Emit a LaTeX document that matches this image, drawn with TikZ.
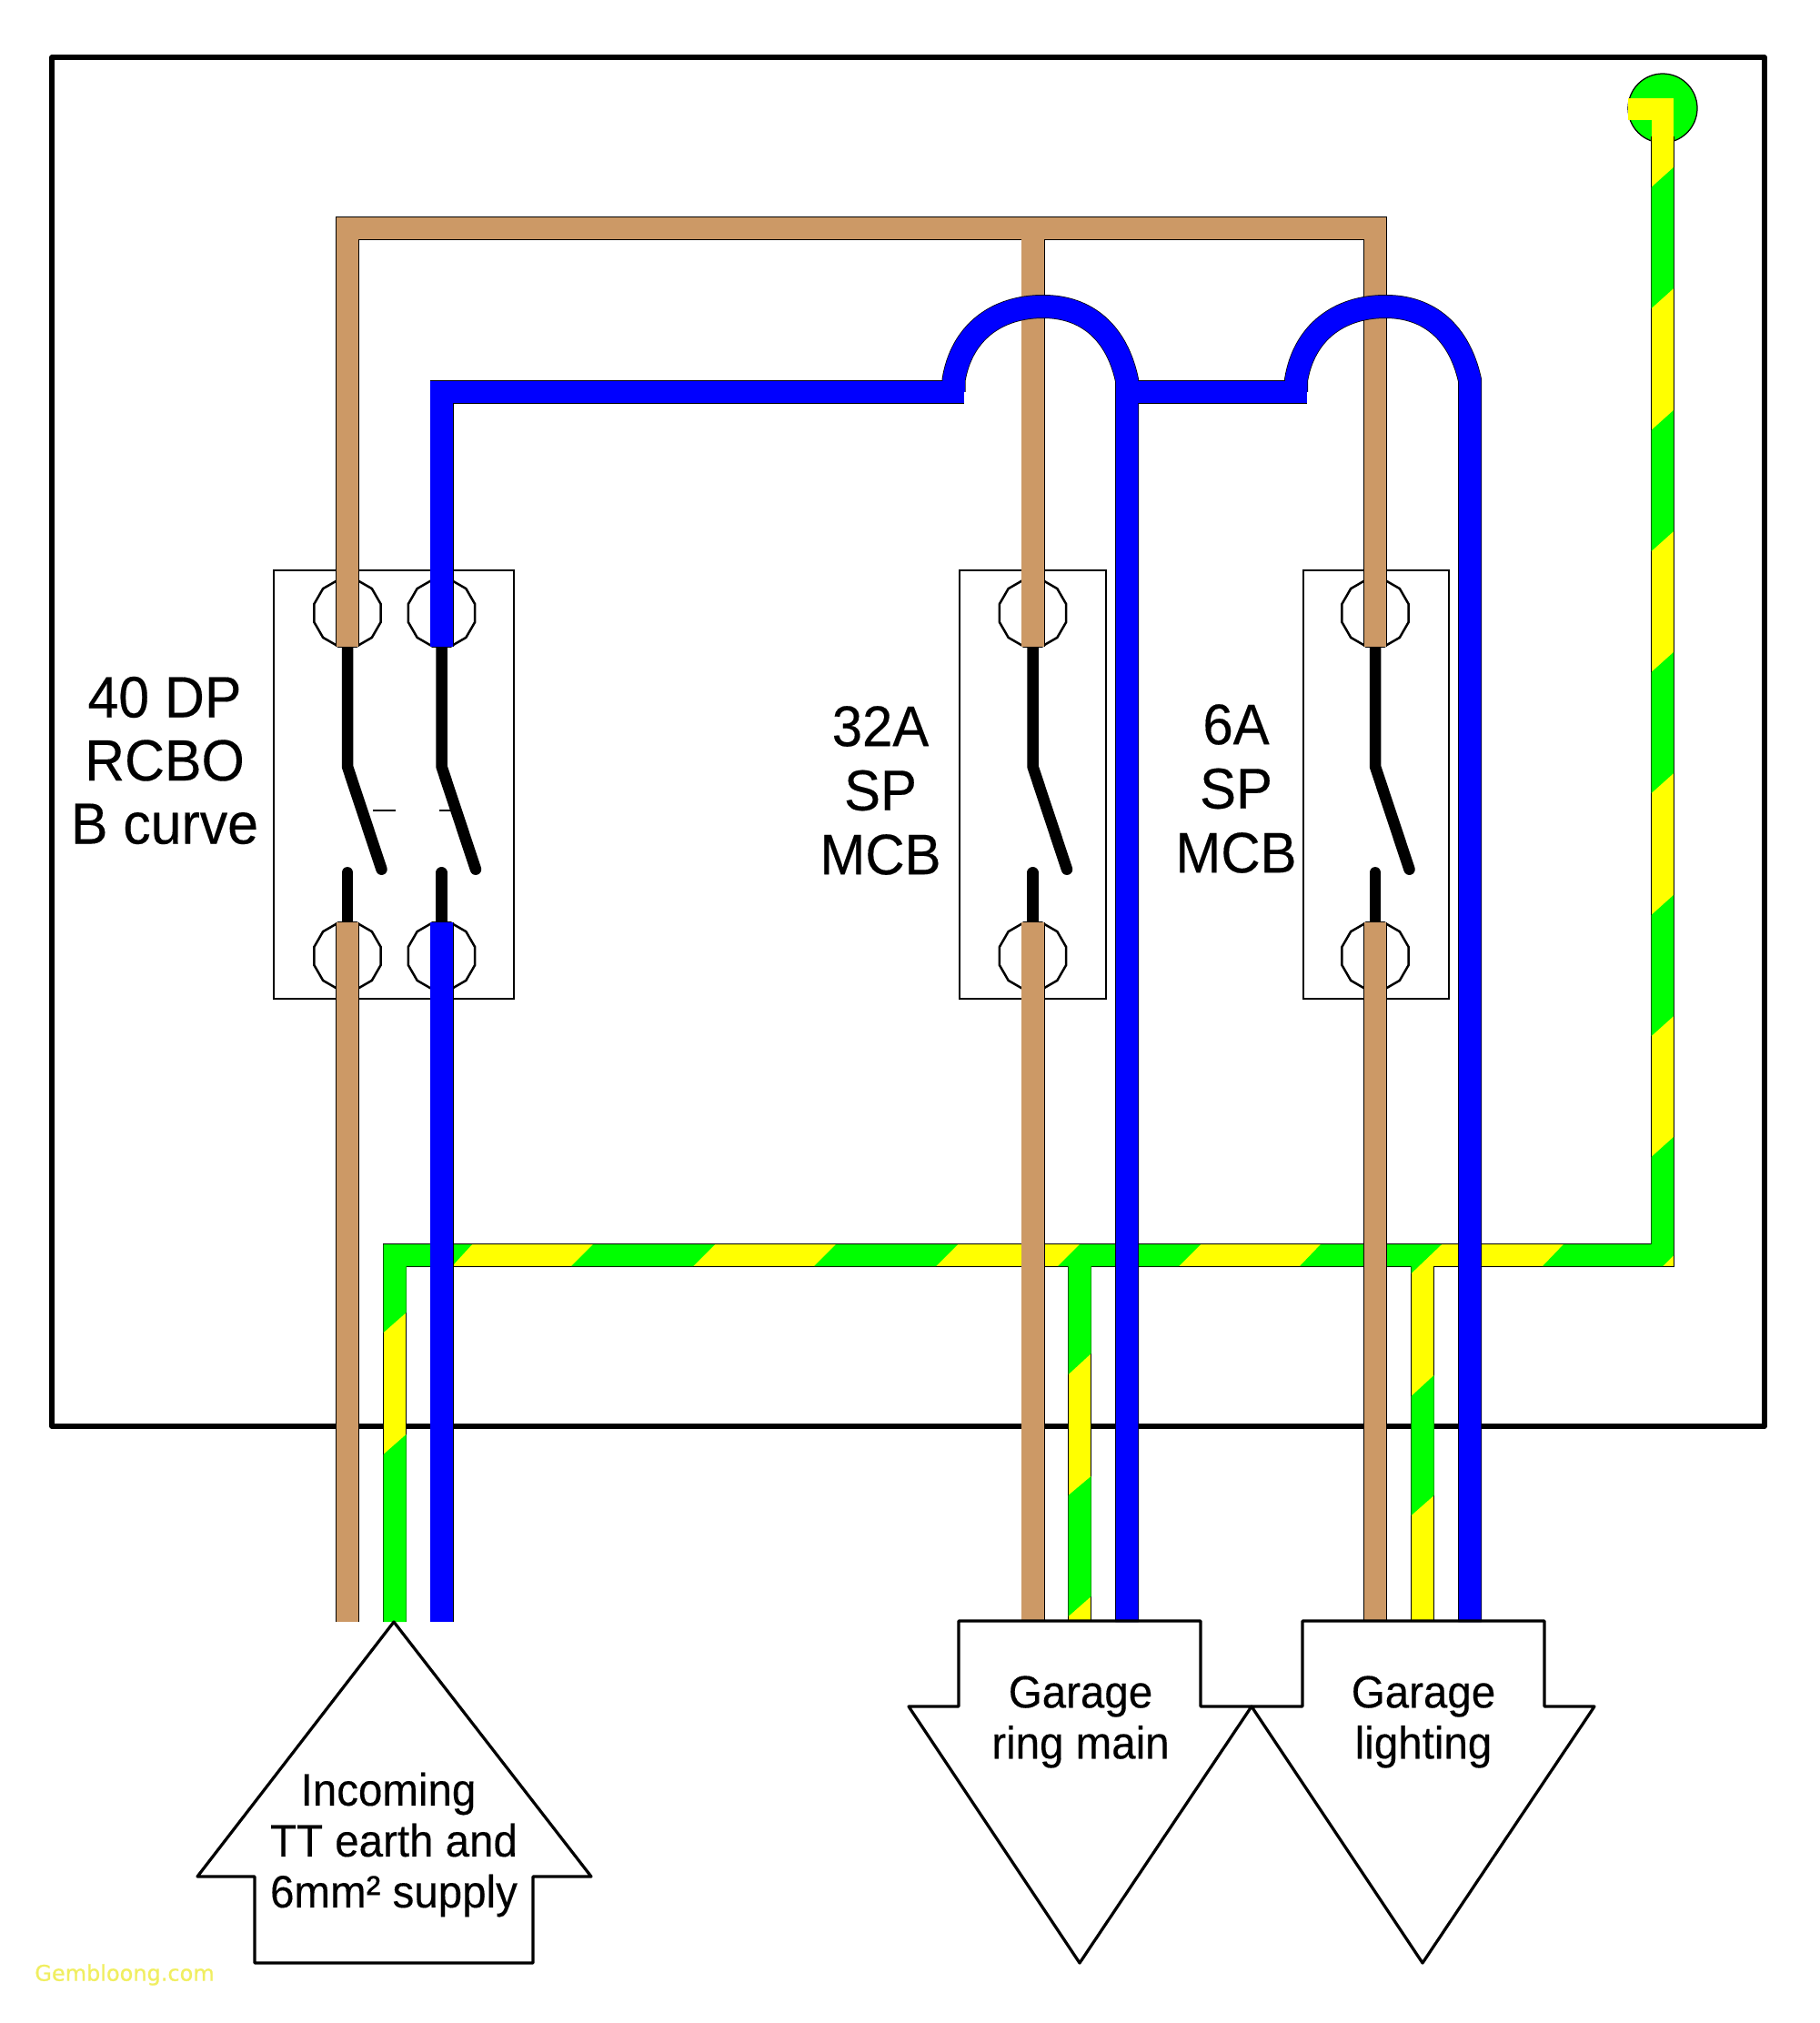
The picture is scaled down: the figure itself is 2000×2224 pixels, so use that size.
\documentclass[tikz,border=0pt]{standalone}
\usepackage{fontspec}
\setmainfont{Liberation Sans}[FakeStretch=0.95,FakeBold=0.25]
\newfontfamily\markfont{DejaVu Sans}[FakeBold=0.8]
\usetikzlibrary{shapes.geometric}
\definecolor{livebrown}{HTML}{CC9966}
\definecolor{neutralblue}{HTML}{0000FF}
\definecolor{earthgreen}{HTML}{00FF00}
\definecolor{earthyellow}{HTML}{FFFF00}
\definecolor{markyellow}{HTML}{F0EE60}
\tikzset{
    board/.style={draw, line width=2.2pt, line join=round},
    breaker/.style={
        rectangle, draw, line width=1.1pt, minimum height=188.4pt, inner sep=0pt
    },
    terminal/.style={
        regular polygon, regular polygon sides=12, draw, line width=1pt,
        minimum size=30.4pt, inner sep=0pt, outer sep=0pt
    },
    gndstud/.style={
        circle, draw, line width=0.5pt, fill=earthgreen,
        minimum size=30.4pt, inner sep=0pt
    },
    contact/.style={line width=5pt, line cap=round, line join=round},
    flag/.style={draw, line width=0.6pt},
    wirecase/.style={line width=10.4pt, draw=black},
    brownwire/.style={line width=9.8pt, draw=livebrown},
    bluewire/.style={line width=9.8pt, draw=neutralblue},
    earthwire/.style={line width=9.8pt, draw=earthyellow},
    stripe/.style={fill=earthgreen},
    tag/.style={draw, line width=1.3pt, line join=round},
    rating/.style={align=center, inner sep=0pt}
}
\begin{document}
\begin{tikzpicture}[x=0.4pt, y=-0.4pt]
	\useasboundingbox (0,0) rectangle (2000,2224);

	% ENCLOSURE
	\draw[board] (57,63) rectangle (1940,1568);

	% BREAKERS
	\node (rcbo) [breaker, minimum width=105.6pt] at (433,862.5) {};
	\node (mcbring) [breaker, minimum width=64.4pt] at (1135.5,862.5) {};
	\node (mcblight) [breaker, minimum width=64pt] at (1513,862.5) {};

	% TERMINALS
	\foreach \tname/\tx in {rcboL/382, rcboN/485.5, ring/1135.5, light/1512} {
		\node (\tname top) [terminal] at (\tx,674) {};
		\node (\tname bot) [terminal] at (\tx,1051) {};
		\draw[contact] (\tname top.south) -- ++(0,132) -- ++(37.5,113);
		\draw[contact] (\tname bot.north) -- ++(0,-55);
	}
	\node (gnd) [gndstud] at (1828,119) {};

	% TRIP MARKS
	\draw[flag] (410,891) -- (435,891);
	\draw[flag] (483,891) -- (498,891);

	% EARTH
	\draw[wirecase] (434,1783) -- (434,1380) -- (1828,1380) -- (1828,150);
	\draw[wirecase] (1187,1380) -- (1187,1783);
	\draw[wirecase] (1564,1380) -- (1564,1783);
	\draw[earthwire] (434,1783) -- (434,1380) -- (1828,1380) -- (1828,120) -- (1790,120);
	\draw[earthwire] (1187,1380) -- (1187,1783);
	\draw[earthwire] (1564,1380) -- (1564,1783);
	\foreach \a in {652,919} {
		\fill[stripe] (\a,1368) -- (\a+134,1368) -- (\a+110,1392) -- (\a-24,1392) -- cycle;
	}
	\foreach \b in {184,451,717,984} {
		\fill[stripe] (1840,\b) -- (1840,\b+133) -- (1815.5,\b+155) -- (1815.5,\b+22) -- cycle;
	}
	\fill[stripe] (421.5,1368) -- (519,1368) -- (497,1392) -- (446.5,1392)
		-- (446.5,1443) -- (421.5,1465) -- cycle;
	\fill[stripe] (446.5,1577) -- (446.5,1783) -- (421.5,1783) -- (421.5,1599) -- cycle;
	\fill[stripe] (1187,1368) -- (1320,1368) -- (1296,1392) -- (1199.5,1392)
		-- (1199.5,1488) -- (1174.5,1511) -- (1174.5,1392) -- (1163,1392) -- cycle;
	\fill[stripe] (1199.5,1623) -- (1199.5,1755) -- (1174.5,1777) -- (1174.5,1644) -- cycle;
	\fill[stripe] (1452,1368) -- (1585,1368) -- (1551.5,1400) -- (1551.5,1392) -- (1429,1392) -- cycle;
	\fill[stripe] (1576.5,1512) -- (1576.5,1644) -- (1551.5,1666) -- (1551.5,1535) -- cycle;
	\fill[stripe] (1840,1250) -- (1840,1380) -- (1828,1392) -- (1696,1392) -- (1719,1368)
		-- (1815.5,1368) -- (1815.5,1272) -- cycle;

	% LIVE
	\foreach \tname/\tx in {rcboL/382, ring/1135.5, light/1512} {
		\draw[wirecase] (\tname bot.north) -- (\tx,1783);
		\draw[brownwire] (\tname bot.north) -- (\tx,1783);
	}
	\draw[wirecase] (rcboLtop.south) -- (382,251) -- (1512,251) -- (lighttop.south);
	\draw[wirecase] (1135.5,251) -- (ringtop.south);
	\draw[brownwire] (rcboLtop.south) -- (382,251) -- (1512,251) -- (lighttop.south);
	\draw[brownwire] (1135.5,251) -- (ringtop.south);

	% NEUTRAL
	\draw[wirecase] (rcboNbot.north) -- (485.5,1783);
	\draw[bluewire] (rcboNbot.north) -- (485.5,1783);
	\foreach \col in {wirecase, bluewire} {
		\draw[\col] (rcboNtop.south) -- (485.5,431) -- (1060,431);
		\draw[\col] (1048.5,431) -- (1048.5,418) .. controls (1057,366) and (1095,337) .. (1147,337)
			.. controls (1195,337) and (1228,366) .. (1239,418) -- (1239,1783);
		\draw[\col] (1239,431) -- (1437,431);
		\draw[\col] (1425,431) -- (1425,418) .. controls (1433.5,366) and (1471.5,337) .. (1523.5,337)
			.. controls (1571.5,337) and (1604.5,366) .. (1616,418) -- (1616,1783);
	}

	% LABELS
	\node (rcbotext) [rating, font=\fontsize{25.6}{27.8}\selectfont] at (181,836) {40 DP\\RCBO\\B curve};
	\node (ringtext) [rating, font=\fontsize{25.2}{28.2}\selectfont] at (968,869) {32A\\SP\\MCB};
	\node (lighttext) [rating, font=\fontsize{25.2}{28.2}\selectfont] at (1359,867) {6A\\SP\\MCB};

	% ARROWS
	\draw[tag] (433,1783) -- (650,2063) -- (586,2063) -- (586,2158) -- (280,2158) -- (280,2063) -- (217,2063) -- cycle;
	\draw[tag] (1054,1782) -- (1320,1782) -- (1320,1876) -- (1376,1876) -- (1187,2158) -- (999,1876) -- (1054,1876) -- cycle;
	\draw[tag] (1432,1782) -- (1698,1782) -- (1698,1876) -- (1753,1876) -- (1564,2158) -- (1376,1876) -- (1432,1876) -- cycle;
	\node (incoming) [rating, font=\fontsize{20}{22.4}\selectfont] at (433,2028) {Incoming\hspace*{4.8pt}\\TT earth and\\6mm² supply};
	\node (ringmain) [rating, font=\fontsize{20}{22.4}\selectfont] at (1188,1893) {Garage\\ring main};
	\node (lighting) [rating, font=\fontsize{20}{22.4}\selectfont] at (1565,1893) {Garage\\lighting};

	\node (mark) [inner sep=0pt, text=markyellow, font=\markfont\fontsize{9.6}{11}\selectfont] at (137,2171) {Gembloong.com};
\end{tikzpicture}
\end{document}
